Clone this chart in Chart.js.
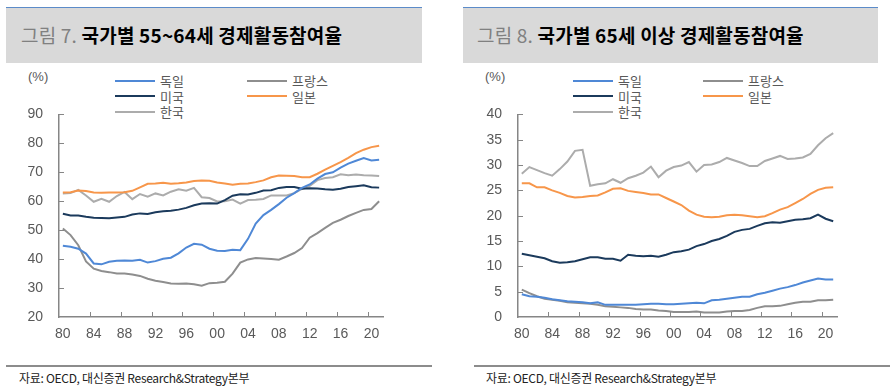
<!DOCTYPE html>
<html>
<head>
<meta charset="utf-8">
<script src="https://cdn.jsdelivr.net/npm/chart.js@4.4.1/dist/chart.umd.min.js"></script>
<style>
  body { margin: 0; width: 890px; height: 386px; background: #fff; position: relative; overflow: hidden;
         font-family: 'Liberation Sans', 'Noto Sans CJK KR', sans-serif; }
  .band { position: absolute; top: 7px; height: 56px; background: #d9d9d9; border-top: 1.5px solid #5b8bc9; box-sizing: border-box; }
  .title { position: absolute; top: 21px; font-family: 'Noto Sans CJK KR', sans-serif; font-size: 19px; line-height: 28px; color: #000; font-weight: 700; letter-spacing: 0.2px; white-space: nowrap; }
  .title span { color: #808080; font-weight: 400; }
  .unit { position: absolute; top: 69px; font-size: 13px; color: #595959; }
  .legend { position: absolute; top: 73px; display: grid; grid-auto-rows: 15.5px; font-family: 'Noto Sans CJK KR', sans-serif; font-size: 13px; color: #595959; }
  .legend div { display: flex; align-items: center; white-space: nowrap; }
  .legend i { display: inline-block; width: 40px; height: 2px; margin-right: 5px; }
  canvas { position: absolute; top: 90px; }
  .rule { position: absolute; top: 365px; height: 2px; background: #8c8c8c; }
  .src { position: absolute; top: 369px; font-family: 'Noto Sans CJK KR', sans-serif; font-size: 12px; color: #222; letter-spacing: -0.3px; white-space: nowrap; }
</style>
</head>
<body>
<div class="band" style="left:6px; width:416px"></div>
<div class="title" style="left:21px"><span>그림 7.</span> 국가별 55~64세 경제활동참여율</div>
<div class="unit" style="left:28px">(%)</div>
<div class="legend" id="legend1" style="left:115px; grid-template-columns:132px auto"></div>
<canvas id="chart1" width="400" height="260" style="left:0"></canvas>
<div class="rule" style="left:6px; width:426px"></div>
<div class="src" style="left:19px">자료: OECD, 대신증권 Research&amp;Strategy본부</div>

<div class="band" style="left:463px; width:415px"></div>
<div class="title" style="left:477px"><span>그림 8.</span> 국가별 65세 이상 경제활동참여율</div>
<div class="unit" style="left:485px">(%)</div>
<div class="legend" id="legend2" style="left:573px; grid-template-columns:130px auto"></div>
<canvas id="chart2" width="400" height="260" style="left:460px"></canvas>
<div class="rule" style="left:474px; width:416px"></div>
<div class="src" style="left:486px">자료: OECD, 대신증권 Research&amp;Strategy본부</div>

<script>
const years = [1980, 1981, 1982, 1983, 1984, 1985, 1986, 1987, 1988, 1989,
               1990, 1991, 1992, 1993, 1994, 1995, 1996, 1997, 1998, 1999,
               2000, 2001, 2002, 2003, 2004, 2005, 2006, 2007, 2008, 2009,
               2010, 2011, 2012, 2013, 2014, 2015, 2016, 2017, 2018, 2019,
               2020, 2021];

const countries = ['독일', '프랑스', '미국', '일본', '한국'];
const colors = ['#4f88d6', '#8e8e8e', '#1b3a5c', '#f7964a', '#acacac'];

// 55~64세
const germany55 = [44.6, 44.3, 43.6, 41.9, 38.5, 38.2, 39.1, 39.4, 39.5, 39.4,
                   39.8, 38.8, 39.3, 40.1, 40.5, 42.0, 44.0, 45.3, 45.0, 43.6,
                   42.9, 42.8, 43.2, 43.1, 47.0, 52.3, 55.2, 57.0, 59.0, 61.2,
                   62.8, 64.6, 65.8, 67.8, 69.4, 70.0, 71.6, 73.0, 74.0, 74.9,
                   74.1, 74.3];
const france55 = [50.6, 48.3, 44.8, 39.2, 36.7, 35.9, 35.5, 35.0, 35.0, 34.7,
                  34.2, 33.2, 32.5, 32.1, 31.6, 31.5, 31.6, 31.3, 30.8, 31.7,
                  31.8, 32.2, 35.0, 38.8, 39.9, 40.4, 40.2, 40.0, 39.8, 40.9,
                  42.1, 43.8, 47.4, 49.0, 50.8, 52.5, 53.6, 54.9, 56.0, 57.0,
                  57.3, 60.0];
const usa55 = [55.7, 55.1, 55.1, 54.6, 54.3, 54.2, 54.1, 54.4, 54.6, 55.4,
               55.8, 55.6, 56.2, 56.5, 56.7, 57.1, 57.7, 58.6, 59.2, 59.3,
               59.2, 60.4, 61.9, 62.4, 62.3, 62.9, 63.7, 63.8, 64.6, 64.9,
               64.9, 64.3, 64.5, 64.4, 64.1, 64.0, 64.3, 64.9, 65.2, 65.5,
               64.8, 64.7];
const japan55 = [63.0, 63.1, 63.7, 63.5, 63.0, 62.9, 63.0, 63.0, 63.1, 63.6,
                 64.8, 66.0, 66.1, 66.4, 66.0, 66.2, 66.5, 67.0, 67.2, 67.1,
                 66.5, 66.1, 65.7, 66.0, 66.1, 66.6, 67.2, 68.3, 68.9, 68.8,
                 68.7, 68.3, 68.3, 69.5, 70.9, 72.2, 73.5, 75.0, 76.6, 77.8,
                 78.7, 79.2];
const korea55 = [62.7, 62.8, 63.9, 62.0, 59.8, 60.8, 59.8, 61.8, 63.2, 60.7,
                 62.5, 61.6, 62.7, 62.0, 63.3, 64.1, 63.6, 64.6, 61.4, 61.1,
                 59.9, 60.0, 60.6, 59.2, 60.4, 60.5, 60.8, 62.0, 62.0, 62.0,
                 62.8, 64.3, 65.3, 67.3, 68.0, 68.3, 69.3, 69.0, 69.2, 69.0,
                 68.9, 68.7];

// 65세 이상
const germany65 = [4.5, 4.1, 4.0, 3.8, 3.5, 3.3, 3.1, 3.0, 2.9, 2.7,
                   2.9, 2.4, 2.4, 2.4, 2.4, 2.4, 2.5, 2.6, 2.6, 2.5,
                   2.5, 2.6, 2.7, 2.8, 2.7, 3.3, 3.4, 3.6, 3.8, 4.0,
                   4.0, 4.5, 4.8, 5.2, 5.6, 5.9, 6.3, 6.8, 7.2, 7.6,
                   7.4, 7.4];
const france65 = [5.4, 4.7, 4.1, 3.6, 3.4, 3.2, 2.9, 2.8, 2.7, 2.6,
                  2.4, 2.1, 2.0, 1.9, 1.8, 1.6, 1.5, 1.5, 1.3, 1.2,
                  1.0, 1.0, 1.0, 1.1, 0.9, 0.9, 0.9, 1.1, 1.2, 1.2,
                  1.4, 1.8, 2.1, 2.1, 2.2, 2.5, 2.8, 3.0, 3.0, 3.3,
                  3.3, 3.4];
const usa65 = [12.5, 12.2, 11.9, 11.6, 11.0, 10.7, 10.8, 11.0, 11.4, 11.8,
               11.8, 11.5, 11.5, 11.1, 12.3, 12.1, 12.0, 12.1, 11.9, 12.3,
               12.8, 13.0, 13.3, 14.0, 14.4, 15.0, 15.4, 16.0, 16.8, 17.2,
               17.4, 18.0, 18.5, 18.7, 18.6, 18.9, 19.2, 19.3, 19.5, 20.2,
               19.4, 18.9];
const japan65 = [26.4, 26.4, 25.6, 25.6, 25.0, 24.5, 23.9, 23.6, 23.7, 23.9,
                 24.0, 24.6, 25.3, 25.4, 24.9, 24.7, 24.5, 24.2, 24.2, 23.5,
                 22.8, 22.1, 21.0, 20.2, 19.8, 19.7, 19.8, 20.1, 20.2, 20.1,
                 19.9, 19.7, 19.9, 20.5, 21.2, 21.7, 22.5, 23.3, 24.3, 25.1,
                 25.5, 25.6];
const korea65 = [28.3, 29.6, 29.0, 28.4, 27.9, 29.2, 30.7, 32.8, 33.0, 25.9,
                 26.2, 26.4, 27.2, 26.5, 27.4, 27.9, 28.5, 29.7, 27.6, 28.9,
                 29.6, 29.9, 30.6, 28.7, 30.0, 30.1, 30.6, 31.4, 30.9, 30.4,
                 29.8, 29.8, 30.8, 31.3, 31.8, 31.2, 31.3, 31.5, 32.2, 33.9,
                 35.3, 36.3];

const axisColor = '#868686';
const labelColor = '#595959';

Chart.defaults.font.family = "'Liberation Sans', 'Noto Sans CJK KR', sans-serif";
Chart.defaults.font.size = 14;
Chart.defaults.color = labelColor;

// short tick marks pointing into the plot, every 4 years on x
const innerTicks = {
    id: 'innerTicks',
    afterDraw(chart) {
        const {ctx, chartArea, scales: {x, y}} = chart;
        const half = (x.getPixelForTick(1) - x.getPixelForTick(0)) / 2;
        ctx.save();
        ctx.strokeStyle = axisColor;
        ctx.lineWidth = 1;
        ctx.beginPath();
        x.ticks.forEach((t, i) => {
            if (i === 0 || i % 4) return;
            const px = Math.round(x.getPixelForTick(i) - half) + 0.5;
            ctx.moveTo(px, chartArea.bottom);
            ctx.lineTo(px, chartArea.bottom - 5);
        });
        y.ticks.forEach((t, i) => {
            if (i === 0) return;
            const py = Math.round(y.getPixelForTick(i)) + 0.5;
            ctx.moveTo(chartArea.left, py);
            ctx.lineTo(chartArea.left + 5, py);
        });
        ctx.stroke();
        ctx.restore();
    }
};

function makeChart(id, series, yMin, yMax, step, yWidth, padRight) {
    return new Chart(document.getElementById(id), {
        type: 'line',
        data: {
            labels: years,
            datasets: series.map((values, i) => ({
                label: countries[i],
                data: values,
                borderColor: colors[i],
                backgroundColor: colors[i],
                borderWidth: 2,
                pointRadius: 0,
                tension: 0
            }))
        },
        options: {
            responsive: false,
            animation: false,
            layout: { padding: { left: 0, right: padRight, top: 11, bottom: 0 } },
            plugins: { legend: { display: false }, tooltip: { enabled: false } },
            scales: {
                x: {
                    offset: true,
                    grid: { display: false, offset: true, drawTicks: false },
                    border: { display: true, color: axisColor, width: 1.5 },
                    ticks: {
                        autoSkip: false,
                        maxRotation: 0,
                        padding: 9,
                        callback: (v, i) => i % 4 === 0 ? String(years[i]).slice(2) : ''
                    },
                    afterFit: s => { s.height = 33; }
                },
                y: {
                    min: yMin,
                    max: yMax,
                    grid: { display: false, drawTicks: false },
                    border: { display: true, color: axisColor, width: 1.5 },
                    ticks: { stepSize: step, padding: 16 },
                    afterFit: s => { s.width = yWidth; }
                }
            }
        },
        plugins: [innerTicks]
    });
}

function buildLegend(el, chart) {
    chart.data.datasets.forEach(ds => {
        const item = document.createElement('div');
        const line = document.createElement('i');
        line.style.background = ds.borderColor;
        item.appendChild(line);
        item.appendChild(document.createTextNode(ds.label));
        el.appendChild(item);
    });
}

const chart1 = makeChart('chart1', [germany55, france55, usa55, japan55, korea55], 20, 90, 10, 59, 17);
const chart2 = makeChart('chart2', [germany65, france65, usa65, japan65, korea65], 0, 40, 5, 58, 23);
buildLegend(document.getElementById('legend1'), chart1);
buildLegend(document.getElementById('legend2'), chart2);
</script>
</body>
</html>
